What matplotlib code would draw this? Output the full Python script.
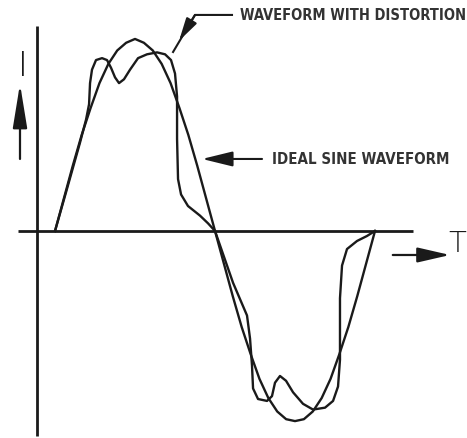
import matplotlib
matplotlib.use("Agg")
import matplotlib.pyplot as plt

# time in electrical degrees, current in per-unit of the ideal peak
ideal_t = [0, 10, 20, 30, 40, 50, 60, 70, 80, 90, 100, 110, 120, 130, 140, 150, 160, 170, 180,
           190, 200, 210, 220, 230, 240, 250, 260, 270, 280, 290, 300, 310, 320, 330, 340, 350, 360]
ideal_i = [0, 0.17, 0.34, 0.5, 0.64, 0.77, 0.87, 0.94, 0.98, 1.0, 0.98, 0.94, 0.87, 0.77, 0.64, 0.5, 0.34, 0.17, 0,
           -0.17, -0.34, -0.5, -0.64, -0.77, -0.87, -0.94, -0.98, -0.99, -0.98, -0.94, -0.87, -0.77, -0.64, -0.5, -0.34, -0.17, 0]

dist_t = [0, 13.5, 28.1, 34.9, 38.3, 39.4, 41.6, 46.1, 52.9, 58.5, 63, 67.5, 72, 77.6, 84.4, 93.4,
          103.5, 114.8, 123.8, 130.5, 135, 137.3, 137.3, 138.4, 141.8, 149.6, 163.1, 172.1, 180,
          200.3, 216, 219.4, 221.6, 222.8, 228.4, 238.5, 244.1, 247.5, 253.1, 259.9, 267.8, 279,
          290.3, 303.8, 312.8, 318.4, 320.6, 320.6, 322.9, 328.5, 339.8, 351, 360]
dist_i = [0, 0.22, 0.46, 0.58, 0.66, 0.77, 0.84, 0.89, 0.90, 0.89, 0.85, 0.80, 0.77, 0.79, 0.84, 0.90,
          0.92, 0.93, 0.92, 0.89, 0.82, 0.70, 0.48, 0.27, 0.19, 0.13, 0.08, 0.04, 0,
          -0.27, -0.44, -0.56, -0.70, -0.82, -0.875, -0.885, -0.86, -0.79, -0.755, -0.78, -0.84, -0.90,
          -0.93, -0.92, -0.885, -0.81, -0.67, -0.35, -0.18, -0.094, -0.052, -0.026, 0]

ink = '#1a1a1a'

fig = plt.figure(figsize=(4.67, 4.39), dpi=100)
ax = fig.add_axes([0, 0, 1, 1])
ax.set_xlim(-61.9, 463.5)
ax.set_ylim(-1.078, 1.208)
ax.axis('off')

# axes drawn by hand like the original sketch
ax.plot([-20.2, -20.2], [-1.068, 1.068], color=ink, lw=2.0, solid_capstyle='butt')
ax.plot([-41.6, 402.8], [0, 0], color=ink, lw=2.0, solid_capstyle='butt')

ax.plot(ideal_t, ideal_i, color=ink, lw=1.7, solid_joinstyle='round')
ax.plot(dist_t, dist_i, color=ink, lw=1.7, solid_joinstyle='round')

# axis direction arrows and labels
ax.annotate('', xy=(-39.4, 0.766), xytext=(-39.4, 0.375),
            arrowprops=dict(arrowstyle='-|>,head_length=1.35,head_width=0.22', color=ink, lw=1.6,
                            mutation_scale=20, shrinkA=0, shrinkB=0))
ax.text(-36, 0.86, 'I', fontsize=24, fontweight='light', color=ink, ha='center', va='center')
ax.annotate('', xy=(444.4, -0.125), xytext=(380, -0.125),
            arrowprops=dict(arrowstyle='-|>,head_length=1.0,head_width=0.23', color=ink, lw=1.6,
                            mutation_scale=20, shrinkA=0, shrinkB=0))
ax.text(462.5, -0.065, 'T', fontsize=21, fontweight='light', color=ink, ha='right', va='center')

# callouts
ax.plot([199.1, 157.5, 132.8], [1.125, 1.125, 0.932], color=ink, lw=1.5)
ax.annotate('', xy=(139.5, 0.99), xytext=(157.5, 1.125),
            arrowprops=dict(arrowstyle='-|>,head_length=0.7,head_width=0.18', color=ink, lw=1.5,
                            mutation_scale=20, shrinkA=0, shrinkB=0))
t1 = ax.text(208, 1.125, 'WAVEFORM WITH DISTORTION', family='DejaVu Sans', fontstretch='condensed',
             fontsize=13, fontweight='bold', color='#333333', ha='left', va='center')

ax.annotate('', xy=(165.4, 0.375), xytext=(232.9, 0.375),
            arrowprops=dict(arrowstyle='-|>,head_length=0.94,head_width=0.23', color=ink, lw=1.5,
                            mutation_scale=20, shrinkA=0, shrinkB=0))
t2 = ax.text(244, 0.375, 'IDEAL SINE WAVEFORM', family='DejaVu Sans', fontstretch='condensed',
             fontsize=13, fontweight='bold', color='#333333', ha='left', va='center')

# shrink the callout labels so they span the same width as in the sketch
renderer = fig.canvas.get_renderer()
for txt, target_px in [(t1, 224), (t2, 176)]:
    w = txt.get_window_extent(renderer).width
    if w > target_px:
        txt.set_fontsize(txt.get_fontsize() * target_px / w)

fig.savefig('out.png', dpi=100)
